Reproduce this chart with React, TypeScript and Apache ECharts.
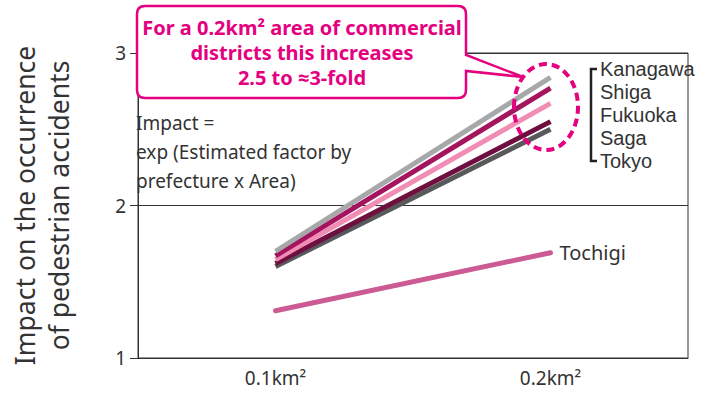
import React, { useEffect, useRef } from "react";
import * as echarts from "echarts";

const categories = ["0.1km²", "0.2km²"];
const seriesNames = ["Kanagawa", "Shiga", "Fukuoka", "Saga", "Tokyo", "Tochigi"];
const kanagawa = [1.7, 2.84];
const shiga = [1.67, 2.77];
const fukuoka = [1.645, 2.67];
const saga = [1.62, 2.55];
const tokyo = [1.6, 2.5];
const tochigi = [1.31, 1.69];
const yTicks = [1, 2, 3];
const groupLabels = ["Kanagawa", "Shiga", "Fukuoka", "Saga", "Tokyo"];
const calloutText = "For a 0.2km² area of commercial\ndistricts this increases\n2.5 to ≈3-fold";
const formulaText = "Impact =\nexp (Estimated factor by\nprefecture x Area)";
const yAxisTitle = "Impact on the occurrence\nof pedestrian accidents";

const colors = ["#a7a8aa", "#a4145f", "#f18db5", "#6e0f40", "#58595b", "#cb5b92"];
const FONT = "'Noto Sans', 'Open Sans', sans-serif";
const LABEL_FONT = "'Liberation Sans', Arial, sans-serif";
const MAGENTA = "#e4007f";

let registered = false;
function registerShapes() {
  if (registered) return;
  registered = true;
  const d =
    "M8,0 L321,0 Q329,0 329,8 L329,49 L386,71 L329,65 L329,84 Q329,92 321,92 L8,92 Q0,92 0,84 L0,8 Q0,0 8,0 Z";
  echarts.graphic.registerShape("callout", echarts.graphic.extendPath(d, {}));
}

export default function App() {
  const ref = useRef<HTMLDivElement>(null);
  useEffect(() => {
    document.body.style.margin = "0";
    if (!ref.current) return;
    registerShapes();
    const chart = echarts.init(ref.current, null, { renderer: "svg" });
    const datas = [kanagawa, shiga, fukuoka, saga, tokyo, tochigi];
    const series = datas.map((data, i) => ({
      name: seriesNames[i],
      type: "line",
      data,
      symbol: "none",
      z: 10 - i,
      lineStyle: { color: colors[i], width: 5, cap: i === 5 ? "round" : "butt" },
      endLabel:
        i === 5
          ? {
              show: true,
              formatter: "{a}",
              color: "#333",
              fontSize: 20,
              fontFamily: FONT,
              distance: 9,
            }
          : undefined,
    }));
    const labelGraphics = groupLabels.map((name, i) => ({
      type: "text",
      x: 600,
      y: 69 + i * 23,
      z: 20,
      style: {
        text: name,
        fill: "#333",
        font: `20px ${LABEL_FONT}`,
        verticalAlign: "middle",
      },
    }));
    chart.setOption({
      animation: false,
      grid: {
        left: 120,
        right: 28,
        top: 53,
        bottom: 36,
        show: true,
        borderColor: "#333",
        borderWidth: 1,
      },
      xAxis: {
        type: "category",
        data: categories,
        boundaryGap: true,
        axisLine: { lineStyle: { color: "#333", width: 1 } },
        axisTick: { alignWithLabel: true, length: 8, lineStyle: { color: "#333" } },
        axisLabel: { color: "#333", fontSize: 19, fontFamily: FONT, margin: 10 },
        splitLine: { show: false },
      },
      yAxis: {
        type: "value",
        min: yTicks[0],
        max: yTicks[yTicks.length - 1],
        interval: 1,
        name: yAxisTitle,
        nameLocation: "middle",
        nameGap: 62,
        nameTextStyle: { color: "#333", fontSize: 26.5, fontFamily: FONT, lineHeight: 34 },
        axisLine: { show: true, lineStyle: { color: "#333", width: 1 } },
        axisTick: { show: true, length: 8, lineStyle: { color: "#333" } },
        axisLabel: { color: "#333", fontSize: 19, fontFamily: FONT, margin: 12 },
        splitLine: { show: true, lineStyle: { color: "#333", width: 1 } },
      },
      graphic: [
        {
          type: "text",
          left: 136,
          top: 108,
          z: 20,
          style: {
            text: formulaText,
            fill: "#333",
            font: `19px ${FONT}`,
            lineHeight: 29,
          },
        },
        {
          type: "callout",
          x: 137,
          y: 6,
          z: 30,
          style: { fill: "#fff", stroke: MAGENTA, lineWidth: 2.5 },
        },
        {
          type: "text",
          x: 302,
          y: 52,
          z: 31,
          style: {
            text: calloutText,
            fill: MAGENTA,
            font: `bold 20px ${FONT}`,
            lineHeight: 25,
            align: "center",
            verticalAlign: "middle",
          },
        },
        {
          type: "ellipse",
          z: 40,
          shape: { cx: 546, cy: 107, rx: 32, ry: 43 },
          style: { fill: "none", stroke: MAGENTA, lineWidth: 4, lineDash: [8, 5] },
        },
        {
          type: "polyline",
          z: 20,
          shape: { points: [[597, 69], [591, 69], [591, 161], [597, 161]] },
          style: { fill: "none", stroke: "#222", lineWidth: 2.5 },
        },
        ...labelGraphics,
      ],
      series,
    });
    return () => chart.dispose();
  }, []);
  return <div ref={ref} style={{ width: 716, height: 394 }} />;
}
